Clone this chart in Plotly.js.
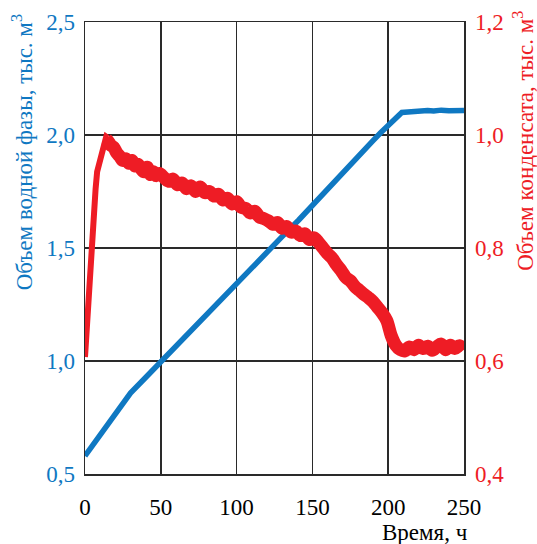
<!DOCTYPE html>
<html>
<head>
<meta charset="utf-8">
<script src="https://cdn.plot.ly/plotly-3.0.1.min.js"></script>
<style>html,body{margin:0;padding:0;background:#fff;}#chart{width:537px;height:544px;}</style>
</head>
<body>
<div id="chart"></div>
<script>
// Water phase volume (left axis), thousand m3
const waterTime = [0,5,10,15,20,26,30,40,50,60,70,80,90,100,110,120,130,141,150,160,170,180,190,195,200,205,209,213,218,222,226,230,235,240,245,250];
const waterVol  = [0.58,0.628,0.676,0.724,0.772,0.83,0.858,0.927,0.997,1.065,1.135,1.205,1.275,1.345,1.415,1.48,1.55,1.624,1.69,1.76,1.83,1.905,1.975,2.01,2.04,2.07,2.10,2.102,2.105,2.103,2.108,2.106,2.11,2.107,2.105,2.108];

// Condensate volume (right axis), thousand m3 — initial rise
const condRiseTime = [0,2,4,6,7,8,11,14,15];
const condRiseVol  = [0.607,0.70,0.795,0.875,0.905,0.935,0.965,0.997,0.995];

// Condensate volume — noisy part
const condTime = [14,15,17,19,21,23,25,27,29,31,33,35,37,39,41,43,45,47,49,52,55,58,61,64,67,70,73,76,79,82,85,88,91,94,97,100,103,106,109,112,115,118,121,124,127,130,133,136,139,142,145,148,151,154,157,160,163,166,169,172,175,178,181,184,187,190,193,196,199,202,205,208,211,214,217,220,223,226,229,232,235,238,241,244,247,250];
const condVol  = [0.993,0.99,0.982,0.978,0.968,0.962,0.955,0.958,0.95,0.955,0.945,0.948,0.94,0.935,0.943,0.93,0.935,0.928,0.932,0.925,0.918,0.922,0.912,0.915,0.905,0.91,0.90,0.908,0.898,0.90,0.892,0.895,0.885,0.888,0.878,0.882,0.872,0.87,0.862,0.865,0.855,0.852,0.848,0.842,0.845,0.835,0.838,0.828,0.83,0.822,0.825,0.815,0.818,0.81,0.80,0.79,0.782,0.77,0.76,0.748,0.742,0.732,0.725,0.718,0.712,0.705,0.695,0.685,0.672,0.645,0.628,0.62,0.618,0.625,0.62,0.628,0.622,0.626,0.619,0.625,0.63,0.62,0.628,0.622,0.627,0.62];

// Tick labels
const xTicks = [0,50,100,150,200,250];
const yLeftTicks = [0.5,1.0,1.5,2.0,2.5];
const yLeftLabels = ['0,5','1,0','1,5','2,0','2,5'];
const yRightTicks = [0.4,0.6,0.8,1.0,1.2];
const yRightLabels = ['0,4','0,6','0,8','1,0','1,2'];

const BLUE = '#0f78c2';
const RED = '#ee1c25';
const GRID = '#2a2a2a';
const FONT = 'Liberation Serif, Times New Roman, serif';
const FS = 23;

const traces = [
  {x: condRiseTime, y: condRiseVol, yaxis: 'y2', mode: 'lines', line: {color: RED, width: 6}, hoverinfo: 'skip'},
  {x: condTime, y: condVol, yaxis: 'y2', mode: 'lines', line: {color: RED, width: 13, shape: 'spline', smoothing: 1}, hoverinfo: 'skip'},
  {x: waterTime, y: waterVol, yaxis: 'y', mode: 'lines', line: {color: BLUE, width: 5.5}, hoverinfo: 'skip'}
];

const layout = {
  width: 537, height: 544,
  margin: {l: 85, r: 73, t: 22, b: 70},
  paper_bgcolor: '#fff', plot_bgcolor: '#fff',
  showlegend: false,
  font: {family: FONT, size: FS, color: '#000'},
  xaxis: {
    range: [0, 250], tickvals: xTicks, ticks: '', showgrid: true, gridcolor: GRID, gridwidth: 1.5,
    showline: true, mirror: true, linecolor: GRID, linewidth: 1.5, zeroline: false,
    tickfont: {family: FONT, size: FS, color: '#000'}, ticklabelstandoff: 12
  },
  yaxis: {
    range: [0.5, 2.5], tickvals: yLeftTicks, ticktext: yLeftLabels, ticks: '', showgrid: true, gridcolor: GRID, gridwidth: 1.5,
    showline: true, mirror: true, linecolor: GRID, linewidth: 1.5, zeroline: false,
    tickfont: {family: FONT, size: FS, color: BLUE}, ticklabelstandoff: 4
  },
  yaxis2: {
    range: [0.4, 1.2], tickvals: yRightTicks, ticktext: yRightLabels, overlaying: 'y', side: 'right', ticks: '',
    showgrid: false, zeroline: false, showline: false,
    tickfont: {family: FONT, size: FS, color: RED}, ticklabelstandoff: 10
  },
  annotations: [
    {text: 'Объем водной фазы, тыс. м<sup>3</sup>', xref: 'paper', yref: 'paper', x: -0.166, y: 0.712,
     xanchor: 'center', yanchor: 'middle', textangle: -90, showarrow: false, font: {family: FONT, size: FS, color: BLUE}},
    {text: 'Объем конденсата, тыс. м<sup>3</sup>', xref: 'paper', yref: 'paper', x: 1.158, y: 0.737,
     xanchor: 'center', yanchor: 'middle', textangle: -90, showarrow: false, font: {family: FONT, size: FS, color: RED}},
    {text: 'Время, ч', xref: 'paper', yref: 'paper', x: 1.016, y: -0.13,
     xanchor: 'right', yanchor: 'middle', showarrow: false, font: {family: FONT, size: FS, color: '#000'}}
  ]
};

Plotly.newPlot('chart', traces, layout, {staticPlot: true, displayModeBar: false});
</script>
</body>
</html>
